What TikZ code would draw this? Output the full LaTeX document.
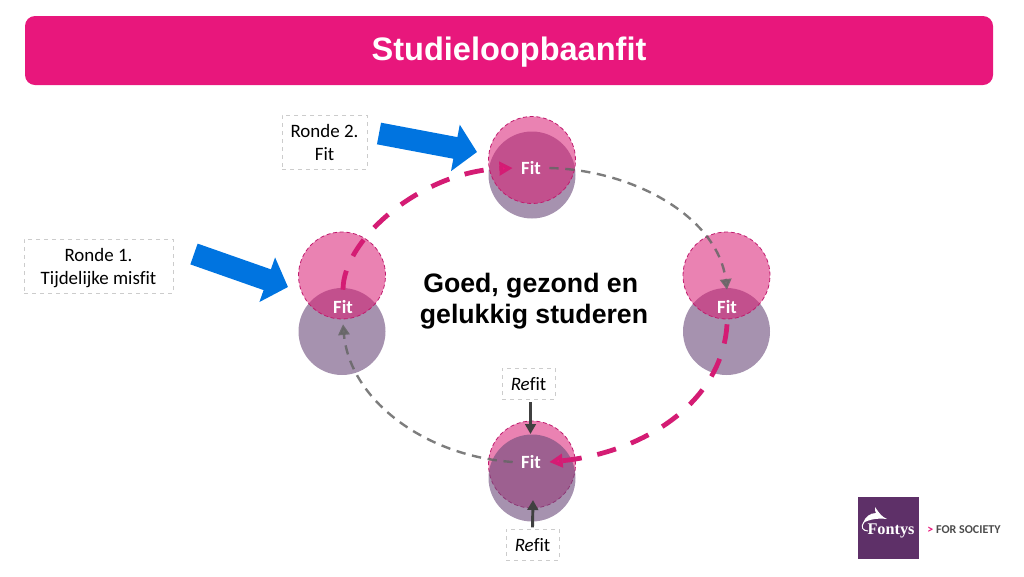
\documentclass[tikz,border=0pt]{standalone}
\usepackage{fontspec}
\setmainfont[Ligatures=NoCommon]{Carlito}
\newfontfamily\kopfont{Liberation Sans}
\newfontfamily\logofont{Liberation Serif}
\usetikzlibrary{arrows.meta}
\definecolor{fitroze}{HTML}{E8177C}
\definecolor{fitblauw}{HTML}{0074E0}
\tikzset{
  pinkc/.style={circle, minimum size=65.25pt, inner sep=0pt, fill={rgb,255:red,216;green,27;blue,114}, fill opacity=.55, draw={rgb,255:red,192;green,27;blue,110}, densely dashed, line width=.6pt},
  grayc/.style={circle, minimum size=65.25pt, inner sep=0pt, fill={rgb,255:red,107;green,74;blue,122}, fill opacity=.6},
  fitlabel/.style={text=white, font=\bfseries\fontsize{14}{16}\selectfont, minimum width=27pt, minimum height=25.5pt, inner sep=0pt},
  labelbox/.style={draw=black!20, dashed, line width=.5pt, inner sep=0pt, text depth=0pt, align=center, font=\fontsize{14.2}{17.25}\selectfont},
  misfitline/.style={draw={rgb,255:red,212;green,28;blue,116}, line width=3.6pt, dash pattern=on 14.6pt off 12pt, -{Triangle[length=10pt,width=10pt,fill=fitroze]}},
  pathline/.style={draw=black!60, line width=1.8pt, dash pattern=on 7pt off 5pt, -{Triangle[length=8pt,width=8.5pt]}, opacity=.85},
  bluearrow/.style={draw=fitblauw, line width=16.5pt, -{Triangle[length=16.5pt,width=34.5pt]}},
  refitarrow/.style={draw=black!75, line width=2.2pt, -{Triangle[length=7.5pt,width=8pt]}}
}
\begin{document}
\begin{tikzpicture}[x=.75pt, y=-.75pt]
  \useasboundingbox (0,0) rectangle (1024,576);
  \node[fill=fitroze, rounded corners=7.5pt, minimum width=726pt, minimum height=51.75pt, inner sep=0pt, text=white, text depth=2pt, font=\kopfont\bfseries\fontsize{24.4}{28}\selectfont] (titel) at (509,50.5) {Studieloopbaanfit}; % Titelbalk
  \node[font=\kopfont\bfseries\fontsize{20}{23.5}\selectfont, align=center] (midden) at (534,301) {Goed, gezond en\hspace*{5pt}\\gelukkig studeren}; % Midden
  \node[grayc] (grayleft) at (342,331.5) {};
  \node[pinkc] (pinkleft) at (342,275.5) {};
  \node[grayc] (grayright) at (726.5,331.5) {};
  \node[pinkc] (pinkright) at (726.5,275.5) {};
  \node[grayc] (graytop) at (532,175) {};
  \node[pinkc] (pinktop) at (532,160) {};
  \node[pinkc] (pinkbottom) at (532,464.5) {};
  \node[grayc] (graybottom) at (532,478) {};
  \node[fitlabel] (fitleft) at (343,307) {Fit};
  \node[fitlabel] (fitright) at (727,307) {Fit};
  \node[fitlabel] (fittop) at (531,168) {Fit};
  \node[fitlabel] (fitbottom) at (531,462) {Fit};
  \node[labelbox, minimum width=111.75pt, minimum height=40.5pt] (rondeeen) at (98.5,266) {Ronde 1.\\Tijdelijke misfit};
  \node[labelbox, minimum width=63.75pt, minimum height=40.5pt] (rondetwee) at (324.5,142) {Ronde 2.\\Fit};
  \node[labelbox, minimum width=39.75pt, minimum height=23.25pt] (refittop) at (528.5,383.5) {\textit{Re}fit};
  \node[labelbox, minimum width=39.75pt, minimum height=23.25pt] (refitbottom) at (532.5,544.5) {\textit{Re}fit};
  \draw[misfitline] (fitleft.north) .. controls (343,240) and (420,172) .. (fittop.west); % Misfit naar fit
  \draw[misfitline] (fitright.south) .. controls (722,405) and (640,453) .. (fitbottom.east);
  \draw[pathline] (fittop.east) .. controls (635,170) and (718,218) .. (fitright.north); % Grijze lijnen
  \draw[pathline] (fitbottom.west) .. controls (425,456) and (350,400) .. (fitleft.south);
  \coordinate (blueonestart) at (194,254);
  \coordinate (blueoneend) at (288,287);
  \coordinate (bluetwostart) at (379,133.5);
  \coordinate (bluetwoend) at (477,152);
  \draw[bluearrow] (blueonestart) -- (blueoneend); % Blauwe pijlen
  \draw[bluearrow] (bluetwostart) -- (bluetwoend);
  \coordinate (refitone) at (530.5,434);
  \coordinate (refittwo) at (533,500);
  \draw[refitarrow] ([xshift=1.5pt,yshift=-2pt]refittop.south) -- (refitone);
  \draw[refitarrow] ([yshift=1pt]refitbottom.north) -- (refittwo);
  \fill[fill={rgb,255:red,94;green,48;blue,104}] (858,497) rectangle (918.5,559); % Logo
  \fill[white] (887,519) .. controls (882,517) and (879,513) .. (875,507) .. controls (875,510) and (875,512) .. (876,513) .. controls (870,513) and (865,517) .. (863,523) .. controls (870,519) and (878,518) .. (887,519);
  \draw[white, line width=.7pt] (864,522) .. controls (860,527) and (863,531) .. (868,531);
  \node[text=white, inner sep=0pt, font=\logofont\bfseries\fontsize{12.2}{14}\selectfont] (fontys) at (891,531) {Fontys};
  \node[text=black!70, inner sep=0pt, font=\bfseries\fontsize{9}{11}\selectfont] (society) at (964,530) {\textcolor{fitroze}{>} FOR SOCIETY};
\end{tikzpicture}
\end{document}
